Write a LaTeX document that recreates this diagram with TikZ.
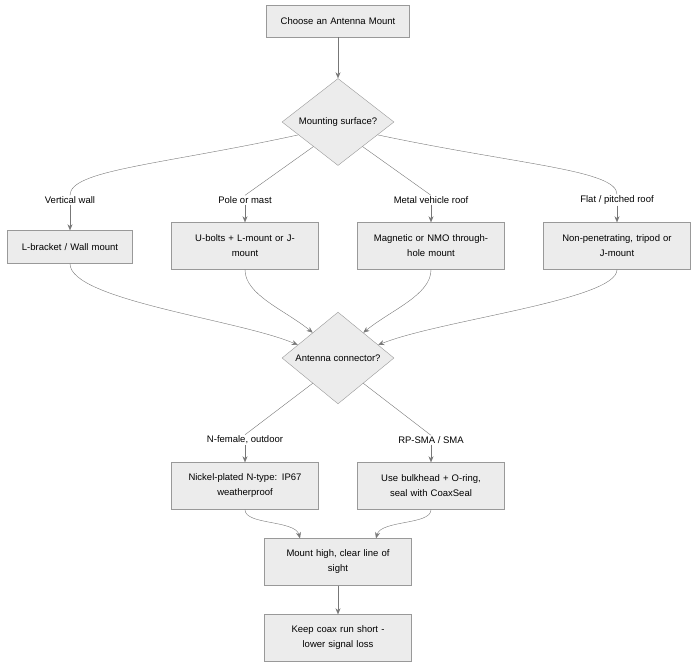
\documentclass[tikz,border=0pt]{standalone}
\usepackage{fontspec}
\setmainfont{Liberation Sans}
\usetikzlibrary{shapes.geometric,arrows.meta}
\definecolor{boxfill}{HTML}{ECECEC}
\definecolor{boxline}{HTML}{999999}
\definecolor{edgeline}{HTML}{777777}
\tikzset{
 stepbox/.style
  = {rectangle, draw=boxline, fill=boxfill, text width=140pt, align=center,
     minimum height=47pt, font=\fontsize{9.5}{15}\selectfont},
 choice/.style
  = {diamond, draw=boxline, fill=boxfill, aspect=1, minimum width=112pt,
     inner sep=0pt, font=\fontsize{9.5}{12}\selectfont},
 lbl/.style
  = {font=\fontsize{9.5}{12}\selectfont, inner sep=1pt},
 l/.style
  = {draw=edgeline, -{Stealth[length=6pt,width=5pt]}},
 ln/.style
  = {draw=edgeline}
}
\begin{document}
\begin{tikzpicture}[x=1pt,y=-1pt]
    \useasboundingbox (0,0) rectangle (700,668);
    \node [stepbox, text width=136pt, minimum height=32pt] (start) at (338,21) {Choose an Antenna Mount};
    \node [choice] (surface) at (338,122) {Mounting surface?};

    \node [lbl] (wall) at (70,200) {Vertical wall};
    \node [lbl] (pole) at (245,200) {Pole or mast};
    \node [lbl] (metal) at (431,200) {Metal vehicle roof};
    \node [lbl] (flat) at (617,200) {Flat / pitched roof};

    \node [stepbox, text width=118pt, minimum height=33pt] (bracket) at (70,247) {L-bracket / Wall mount};
    \node [stepbox] (ubolt) at (245,246) {U-bolts + L-mount or J-\\mount};
    \node [stepbox] (magnetic) at (431,246) {Magnetic or NMO through-\\hole mount};
    \node [stepbox] (nonpen) at (617,246) {Non-penetrating, tripod or\\J-mount};

    \node [choice] (connector) at (338,358) {Antenna connector?};

    \node [lbl] (nfemale) at (245,440) {N-female, outdoor};
    \node [lbl] (rpsma) at (431,440) {RP-SMA / SMA};

    \node [stepbox] (nickel) at (245,486) {Nickel-plated N-type: IP67\\weatherproof};
    \node [stepbox] (bulkhead) at (431,486) {Use bulkhead + O-ring,\\seal with CoaxSeal};
    \node [stepbox] (high) at (338,562) {Mount high, clear line of\\sight};
    \node [stepbox] (coax) at (338,638) {Keep coax run short -\\lower signal loss};

    \path [l] (start) -- (surface);
    \path [ln] (surface.198) .. controls (160,165) and (70,170) .. (wall.north);
    \path [ln] (surface.225) -- (pole.north);
    \path [ln] (surface.315) -- (metal.north);
    \path [ln] (surface.342) .. controls (520,165) and (617,170) .. (flat.north);
    \path [l] (wall) -- (bracket);
    \path [l] (pole) -- (ubolt);
    \path [l] (metal) -- (magnetic);
    \path [l] (flat) -- (nonpen);

    \path [l] (bracket.south) .. controls (70,300) and (240,320) .. (connector.162);
    \path [l] (ubolt.south) .. controls (245,295) and (285,310) .. (connector.135);
    \path [l] (magnetic.south) .. controls (431,295) and (391,310) .. (connector.45);
    \path [l] (nonpen.south) .. controls (617,300) and (440,320) .. (connector.18);

    \path [ln] (connector.225) -- (nfemale.north);
    \path [ln] (connector.315) -- (rpsma.north);
    \path [l] (nfemale) -- (nickel);
    \path [l] (rpsma) -- (bulkhead);

    \path [l] (nickel.south) .. controls (245,525) and (295,520) .. (high.north -| 300,0);
    \path [l] (bulkhead.south) .. controls (431,525) and (381,520) .. (high.north -| 376,0);
    \path [l] (high) -- (coax);
\end{tikzpicture}
\end{document}
